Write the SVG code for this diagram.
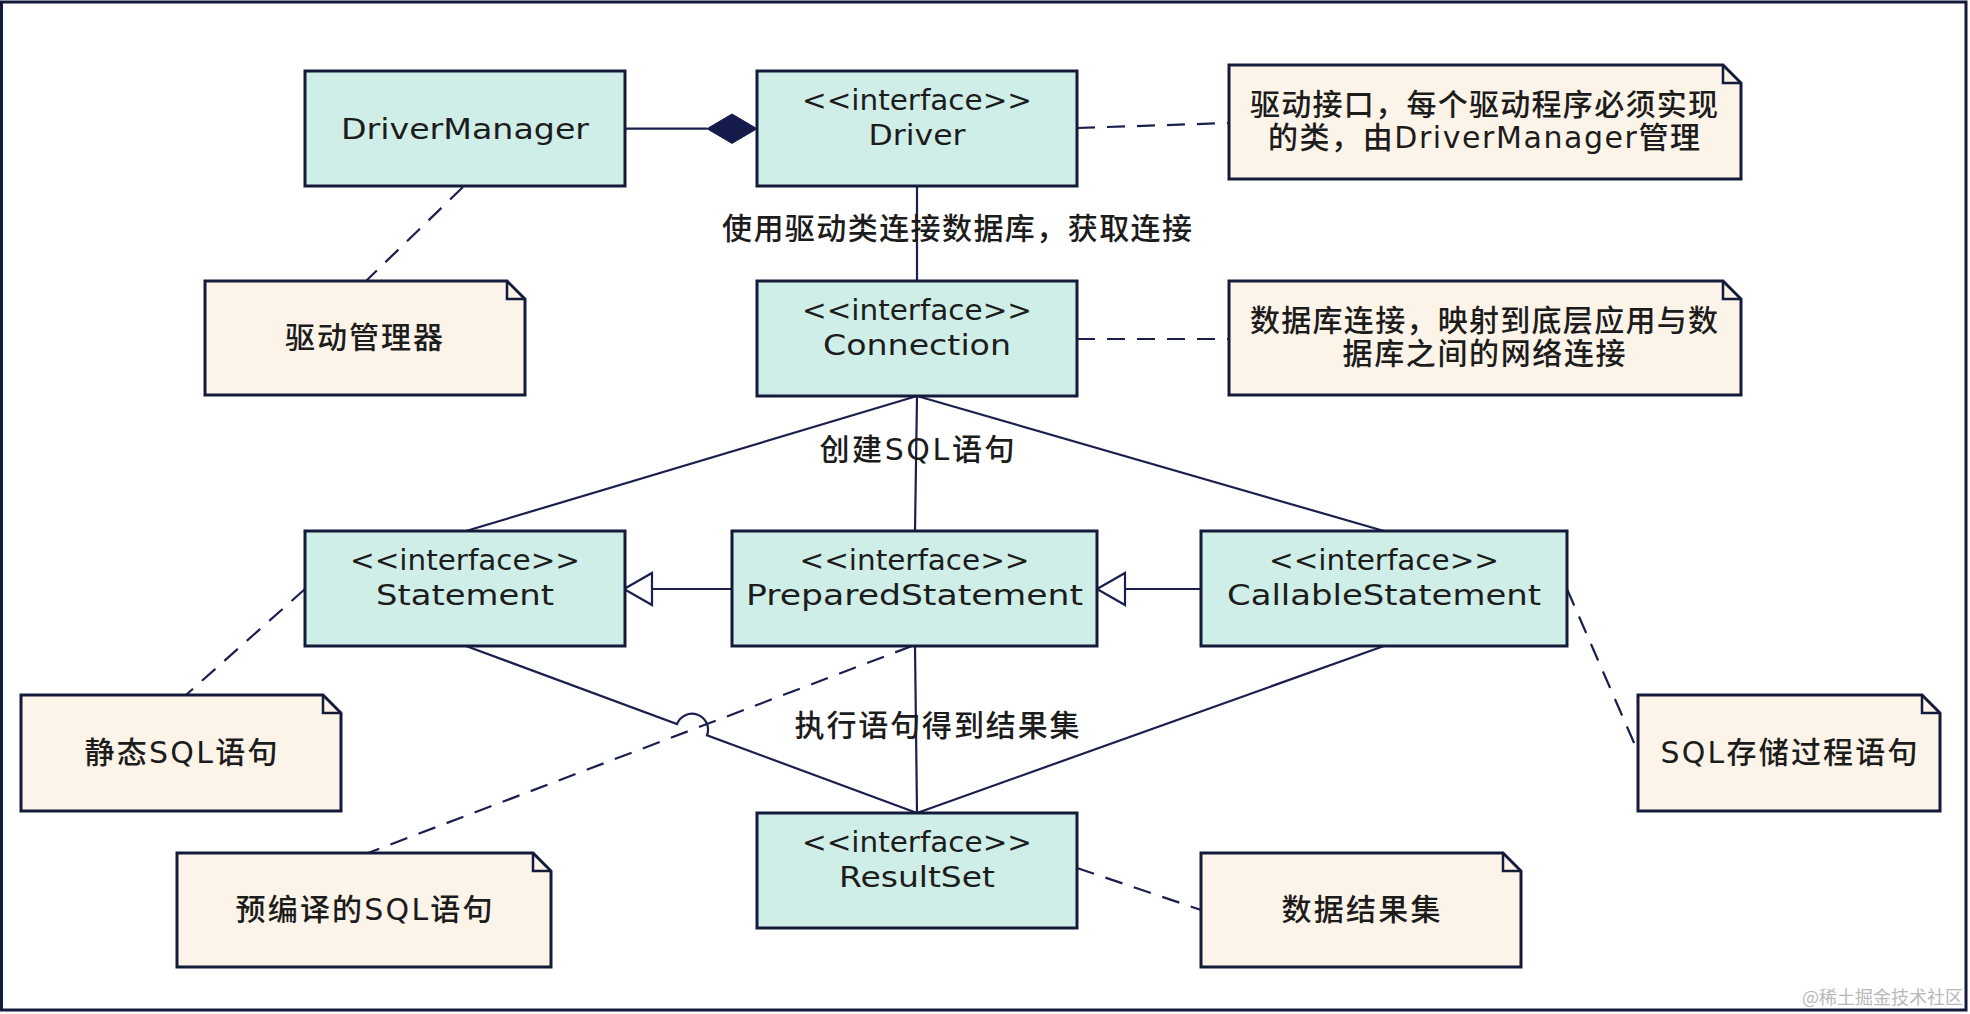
<svg xmlns="http://www.w3.org/2000/svg" width="1970" height="1014" viewBox="0 0 1970 1014">
<style>
.frame{fill:#ffffff;stroke:#141a3a;stroke-width:3}
.box{fill:#cfeee7;stroke:#141a3a;stroke-width:3}
.note{fill:#fdf4e9;stroke:#141a3a;stroke-width:3;stroke-linejoin:miter}
.fold{fill:none;stroke:#141a3a;stroke-width:2.5}
.line{fill:none;stroke:#1a1f4d;stroke-width:2.2}
.dash{fill:none;stroke:#1a1f4d;stroke-width:2.2;stroke-dasharray:18 12}
.t{font-family:"DejaVu Sans","Noto Sans CJK SC",sans-serif;font-size:29px;fill:#1c1c1c;text-anchor:middle}
.c{font-family:"DejaVu Sans","Noto Sans CJK SC",sans-serif;font-size:30px;font-weight:500;fill:#1c1c1c;text-anchor:middle}
.wm{font-family:"Noto Sans CJK SC",sans-serif;font-size:18px;fill:#b9b9b9;text-anchor:end}
</style>
<rect class="frame" x="1.5" y="2" width="1964.5" height="1008"/>

<g id="connectors">
  <line class="line" x1="625" y1="128.7" x2="707" y2="128.7"/>
  <polygon points="707,128.7 732,114 757,128.7 732,143.4" fill="#141a4a" stroke="#141a4a" stroke-width="1"/>
  <line class="dash" x1="463" y1="187" x2="366" y2="281"/>
  <line class="dash" x1="1077" y1="128" x2="1229" y2="123"/>
  <line class="line" x1="917" y1="186" x2="917" y2="281"/>
  <line class="dash" x1="1077" y1="339" x2="1229" y2="339"/>
  <line class="line" x1="917" y1="396" x2="466" y2="531"/>
  <line class="line" x1="917" y1="396" x2="915" y2="531"/>
  <line class="line" x1="917" y1="396" x2="1384" y2="531"/>
  <line class="line" x1="732" y1="589" x2="652" y2="589"/>
  <polygon points="624,589 652,573 652,605" fill="#ffffff" stroke="#1a1f4d" stroke-width="2.2"/>
  <line class="line" x1="1201" y1="589" x2="1125" y2="589"/>
  <polygon points="1097,589 1125,573 1125,605" fill="#ffffff" stroke="#1a1f4d" stroke-width="2.2"/>
  <line class="dash" x1="305" y1="589" x2="186" y2="695"/>
  <path class="line" d="M466,646 L677,724.1 A16,16 0 0 1 707,735.3 L917,813"/>
  <line class="line" x1="915" y1="646" x2="917" y2="813"/>
  <line class="line" x1="1384" y1="646" x2="917" y2="813"/>
  <line class="dash" x1="912" y1="646" x2="368" y2="853"/>
  <line class="dash" x1="1567" y1="589" x2="1638" y2="752"/>
  <line class="dash" x1="1077" y1="868" x2="1201" y2="910"/>
  <text class="c" x="957" y="239" textLength="470">使用驱动类连接数据库，获取连接</text>
  <text class="c" x="917" y="460" textLength="195">创建SQL语句</text>
  <text class="c" x="937" y="736" textLength="285">执行语句得到结果集</text>
</g>

<g id="DriverManager">
  <rect class="box" x="305" y="71" width="320" height="115"/>
  <text class="t" x="465" y="139" textLength="248" lengthAdjust="spacingAndGlyphs">DriverManager</text>
</g>
<g id="Driver">
  <rect class="box" x="757" y="71" width="320" height="115"/>
  <text class="t" x="917" y="110" textLength="230" lengthAdjust="spacingAndGlyphs">&lt;&lt;interface&gt;&gt;</text>
  <text class="t" x="917" y="145" textLength="97" lengthAdjust="spacingAndGlyphs">Driver</text>
</g>
<g id="Connection">
  <rect class="box" x="757" y="281" width="320" height="115"/>
  <text class="t" x="917" y="320" textLength="230" lengthAdjust="spacingAndGlyphs">&lt;&lt;interface&gt;&gt;</text>
  <text class="t" x="917" y="355" textLength="188" lengthAdjust="spacingAndGlyphs">Connection</text>
</g>
<g id="Statement">
  <rect class="box" x="305" y="531" width="320" height="115"/>
  <text class="t" x="465" y="570" textLength="230" lengthAdjust="spacingAndGlyphs">&lt;&lt;interface&gt;&gt;</text>
  <text class="t" x="465" y="605" textLength="178" lengthAdjust="spacingAndGlyphs">Statement</text>
</g>
<g id="PreparedStatement">
  <rect class="box" x="732" y="531" width="365" height="115"/>
  <text class="t" x="914.5" y="570" textLength="230" lengthAdjust="spacingAndGlyphs">&lt;&lt;interface&gt;&gt;</text>
  <text class="t" x="914.5" y="605" textLength="337" lengthAdjust="spacingAndGlyphs">PreparedStatement</text>
</g>
<g id="CallableStatement">
  <rect class="box" x="1201" y="531" width="366" height="115"/>
  <text class="t" x="1384" y="570" textLength="230" lengthAdjust="spacingAndGlyphs">&lt;&lt;interface&gt;&gt;</text>
  <text class="t" x="1384" y="605" textLength="314" lengthAdjust="spacingAndGlyphs">CallableStatement</text>
</g>
<g id="ResultSet">
  <rect class="box" x="757" y="813" width="320" height="115"/>
  <text class="t" x="917" y="852" textLength="230" lengthAdjust="spacingAndGlyphs">&lt;&lt;interface&gt;&gt;</text>
  <text class="t" x="917" y="887" textLength="156" lengthAdjust="spacingAndGlyphs">ResultSet</text>
</g>

<g id="note-drivermanager">
  <path class="note" d="M205,281 H507 L525,299 V395 H205 Z"/>
  <path class="fold" d="M507,281 V299 H525"/>
  <text class="c" x="364" y="348" textLength="158">驱动管理器</text>
</g>
<g id="note-driver">
  <path class="note" d="M1229,65 H1723 L1741,83 V179 H1229 Z"/>
  <path class="fold" d="M1723,65 V83 H1741"/>
  <text class="c" x="1484" y="115" textLength="468">驱动接口，每个驱动程序必须实现</text>
  <text class="c" x="1484" y="148" textLength="432">的类，由DriverManager管理</text>
</g>
<g id="note-connection">
  <path class="note" d="M1229,281 H1723 L1741,299 V395 H1229 Z"/>
  <path class="fold" d="M1723,281 V299 H1741"/>
  <text class="c" x="1484" y="331" textLength="468">数据库连接，映射到底层应用与数</text>
  <text class="c" x="1484" y="364" textLength="283">据库之间的网络连接</text>
</g>
<g id="note-statement">
  <path class="note" d="M21,695 H323 L341,713 V811 H21 Z"/>
  <path class="fold" d="M323,695 V713 H341"/>
  <text class="c" x="181" y="763" textLength="193">静态SQL语句</text>
</g>
<g id="note-prepared">
  <path class="note" d="M177,853 H533 L551,871 V967 H177 Z"/>
  <path class="fold" d="M533,853 V871 H551"/>
  <text class="c" x="364" y="920" textLength="257">预编译的SQL语句</text>
</g>
<g id="note-callable">
  <path class="note" d="M1638,695 H1922 L1940,713 V811 H1638 Z"/>
  <path class="fold" d="M1922,695 V713 H1940"/>
  <text class="c" x="1789" y="763" textLength="257">SQL存储过程语句</text>
</g>
<g id="note-resultset">
  <path class="note" d="M1201,853 H1503 L1521,871 V967 H1201 Z"/>
  <path class="fold" d="M1503,853 V871 H1521"/>
  <text class="c" x="1361" y="920" textLength="159">数据结果集</text>
</g>

<text class="wm" x="1963" y="1004">@稀土掘金技术社区</text>
</svg>
